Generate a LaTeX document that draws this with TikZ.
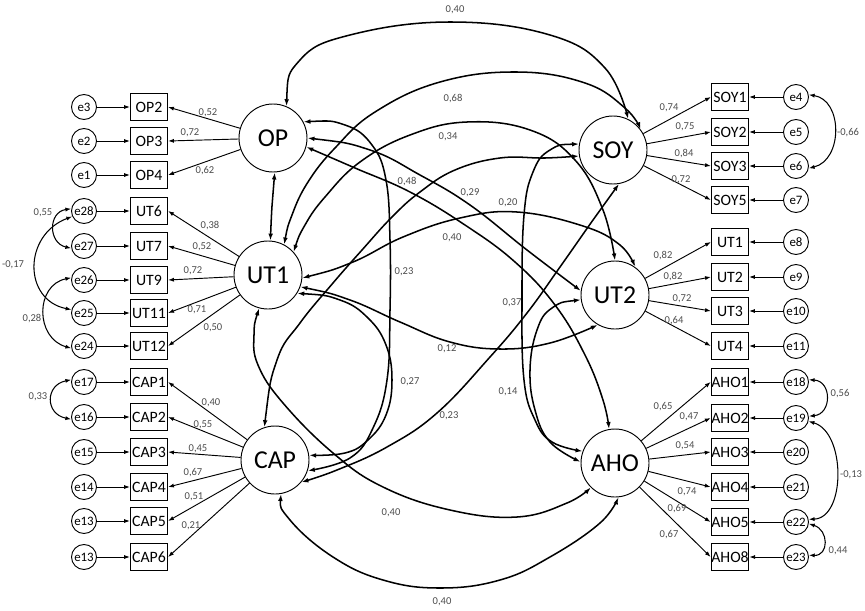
\documentclass[tikz,border=0pt]{standalone}
\usepackage{fontspec}
\setmainfont{Carlito}
\usetikzlibrary{arrows.meta}

\begin{document}
\begin{tikzpicture}[x=0.03cm,y=-0.03cm,
    latent/.style={circle, draw, line width=0.8pt, minimum size=2.04cm, inner sep=0pt, font=\fontsize{22}{24}\selectfont},
    obs/.style={rectangle, draw, line width=1pt, minimum width=1.11cm, minimum height=0.81cm, inner sep=0pt, font=\fontsize{13.5}{15}\selectfont},
    err/.style={circle, draw, line width=0.8pt, minimum size=0.75cm, inner sep=0pt, font=\fontsize{11}{12}\selectfont},
    load/.style={-{Latex[length=5pt,width=3.5pt]}, line width=0.8pt},
    cov/.style={{Latex[length=6pt,width=4pt]}-{Latex[length=6pt,width=4pt]}, line width=1.3pt},
    ecov/.style={{Latex[length=5pt,width=3.5pt]}-{Latex[length=5pt,width=3.5pt]}, line width=0.9pt},
    lbl/.style={font=\fontsize{9}{10}\selectfont, text=black!70, inner sep=0pt}]
    \useasboundingbox (0,0) rectangle (865,610);

    % Facteurs
    \node[latent] (OP) at (273,138) {OP};
    \node[latent] (UTI) at (268,275) {UT1};
    \node[latent] (CAP) at (275,460) {CAP};
    \node[latent] (SOY) at (613,150) {SOY};
    \node[latent] (UTII) at (615,295) {UT2};
    \node[latent] (AHO) at (615,463) {AHO};

    % Indicateurs gauche
    \foreach \n/\y/\e in {OP2/107/e3, OP3/141/e2, OP4/175/e1, UT6/211/e28, UT7/246/e27, UT9/280/e26, UT11/313/e25, UT12/346/e24, CAP1/382/e17, CAP2/417/e16, CAP3/452/e15, CAP4/487/e14, CAP5/521/e13, CAP6/557/e13} {
        \node[obs] (\n) at (149,\y) {\n};
        \node[err] (e\n) at (84,\y) {\e};
        \draw[load] (e\n) -- (\n);
    }

    % Indicateurs droite
    \foreach \n/\t/\y/\e in {SOY1/SOY1/97/e4, SOY2/SOY2/132/e5, SOY3/SOY3/166/e6, SOY5/SOY5/200/e7, rUT1/UT1/242/e8, rUT2/UT2/277/e9, rUT3/UT3/311/e10, rUT4/UT4/346/e11, AHO1/AHO1/382/e18, AHO2/AHO2/418/e19, AHO3/AHO3/452/e20, AHO4/AHO4/487/e21, AHO5/AHO5/522/e22, AHO8/AHO8/557/e23} {
        \node[obs] (\n) at (730,\y) {\t};
        \node[err] (e\n) at (796,\y) {\e};
        \draw[load] (e\n) -- (\n);
    }

    % Saturations
    \foreach \f/\n/\v/\lx/\ly in {OP/OP2/{0,52}/208/113, OP/OP3/{0,72}/190/133, OP/OP4/{0,62}/205/171,
        UTI/UT6/{0,38}/210/226, UTI/UT7/{0,52}/202/247, UTI/UT9/{0,72}/193/271, UTI/UT11/{0,71}/197/310, UTI/UT12/{0,50}/213/328,
        CAP/CAP1/{0,40}/211/403, CAP/CAP2/{0,55}/203/425, CAP/CAP3/{0,45}/198/449, CAP/CAP4/{0,67}/193/473, CAP/CAP5/{0,51}/194/497, CAP/CAP6/{0,21}/191/526} {
        \draw[load] (\f) -- (\n.east);
        \node[lbl] (l\n) at (\lx,\ly) {\v};
    }
    \foreach \f/\n/\v/\lx/\ly in {SOY/SOY1/{0,74}/669/108, SOY/SOY2/{0,75}/685/127, SOY/SOY3/{0,84}/684/154, SOY/SOY5/{0,72}/681/180,
        UTII/rUT1/{0,82}/663/256, UTII/rUT2/{0,82}/673/277, UTII/rUT3/{0,72}/682/299, UTII/rUT4/{0,64}/674/321,
        AHO/AHO1/{0,65}/663/407, AHO/AHO2/{0,47}/689/417, AHO/AHO3/{0,54}/685/446, AHO/AHO4/{0,74}/687/492, AHO/AHO5/{0,69}/677/509, AHO/AHO8/{0,67}/669/535} {
        \draw[load] (\f) -- (\n.west);
        \node[lbl] (l\n) at (\lx,\ly) {\v};
    }

    % Covariances des erreurs
    \draw[ecov] (eUT6.170) .. controls (48,212) and (48,243) .. (eUT7.190);
    \draw[ecov] (eUT6.205) .. controls (23,235) and (23,300) .. (eUT11.165);
    \draw[ecov] (eUT9.170) .. controls (35,285) and (35,338) .. (eUT12.190);
    \draw[ecov] (eCAP1.170) .. controls (45,385) and (45,414) .. (eCAP2.190);
    \draw[ecov] (eSOY1.10) .. controls (843,100) and (843,160) .. (eSOY3.-10);
    \draw[ecov] (eAHO1.10) .. controls (832,381) and (832,414) .. (eAHO2.8);
    \draw[ecov] (eAHO2.-15) .. controls (846,432) and (846,518) .. (eAHO5.12);
    \draw[ecov] (eAHO5.-8) .. controls (829,530) and (829,556) .. (eAHO8.8);
    \node[lbl] (c1) at (43,213) {0,55};
    \node[lbl] (c2) at (13,265) {-0,17};
    \node[lbl] (c3) at (32,319) {0,28};
    \node[lbl] (c4) at (38,397) {0,33};
    \node[lbl] (c5) at (848,133) {-0,66};
    \node[lbl] (c6) at (840,394) {0,56};
    \node[lbl] (c7) at (851,475) {-0,13};
    \node[lbl] (c8) at (838,551) {0,44};

    % Covariances des facteurs
    \draw[cov] plot [smooth, tension=0.7] coordinates {(OP.67) (300,60) (350,35) (450,22) (550,35) (605,68) (SOY.64)};
    \draw[cov] plot [smooth, tension=0.7] coordinates {(UTI.62) (292,215) (308,182) (335,148) (375,112) (440,82) (517,72) (585,83) (625,108) (SOY.37)};
    \draw[cov] plot [smooth, tension=0.7] coordinates {(OP.-87) (272,206) (UTI.86)};
    \draw[cov] plot [smooth, tension=0.7] coordinates {(UTI.42) (305,225) (325,197) (360,162) (410,135) (467,122) (530,130) (575,160) (603,210) (UTII.90)};
    \draw[cov] plot [smooth, tension=0.7] coordinates {(OP.0) (370,150) (420,175) (470,205) (527,250) (UTII.173)};
    \draw[cov] plot [smooth, tension=0.7] coordinates {(OP.-15) (355,168) (410,192) (465,225) (515,262) (555,305) (585,355) (603,400) (AHO.100)};
    \draw[cov] plot [smooth, tension=0.7] coordinates {(OP.28) (345,125) (372,145) (386,180) (390,240) (390,310) (387,380) (373,428) (350,458) (CAP.-18)};
    \draw[cov] plot [smooth, tension=0.7] coordinates {(UTI.-32) (340,300) (368,318) (386,345) (392,380) (386,415) (368,440) (345,453) (CAP.8)};
    \draw[cov] plot [smooth, tension=0.7] coordinates {(UTI.-5) (353,262) (403,237) (460,218) (517,212) (583,226) (620,245) (UTII.55)};
    \draw[cov] plot [smooth, tension=0.7] coordinates {(CAP.108) (277,360) (300,323) (333,283) (362,250) (392,217) (420,192) (455,170) (500,158) (545,158) (SOY.-170)};
    \draw[cov] plot [smooth, tension=0.7] coordinates {(SOY.170) (550,150) (533,172) (524,215) (522,300) (524,380) (535,420) (552,442) (AHO.160)};
    \draw[cov] plot [smooth, tension=0.7] coordinates {(UTII.188) (552,308) (537,330) (530,370) (535,410) (550,442) (AHO.178)};
    \draw[cov] plot [smooth, tension=0.7] coordinates {(UTI.-20) (350,300) (400,322) (450,342) (500,349) (550,343) (UTII.-120)};
    \draw[cov] plot [smooth, tension=0.7] coordinates {(SOY.-80) (593,220) (560,267) (527,313) (490,357) (437,413) (387,447) (337,470) (CAP.-40)};
    \draw[cov] plot [smooth, tension=0.7] coordinates {(UTI.-105) (254,335) (258,365) (283,403) (333,453) (383,487) (450,510) (517,517) (567,503) (AHO.-135)};
    \draw[cov] plot [smooth, tension=0.7] coordinates {(CAP.-80) (290,520) (333,557) (383,580) (440,588) (500,580) (550,557) (600,523) (AHO.-85)};

    \node[lbl] (r1) at (455,10) {0,40};
    \node[lbl] (r2) at (453,99) {0,68};
    \node[lbl] (r3) at (448,137) {0,34};
    \node[lbl] (r4) at (407,182) {0,48};
    \node[lbl] (r5) at (470,193) {0,29};
    \node[lbl] (r6) at (508,203) {0,20};
    \node[lbl] (r7) at (452,238) {0,40};
    \node[lbl] (r8) at (404,272) {0,23};
    \node[lbl] (r9) at (512,303) {0,37};
    \node[lbl] (r10) at (447,349) {0,12};
    \node[lbl] (r11) at (410,382) {0,27};
    \node[lbl] (r12) at (508,392) {0,14};
    \node[lbl] (r13) at (449,416) {0,23};
    \node[lbl] (r14) at (391,513) {0,40};
    \node[lbl] (r15) at (442,602) {0,40};
\end{tikzpicture}
\end{document}
